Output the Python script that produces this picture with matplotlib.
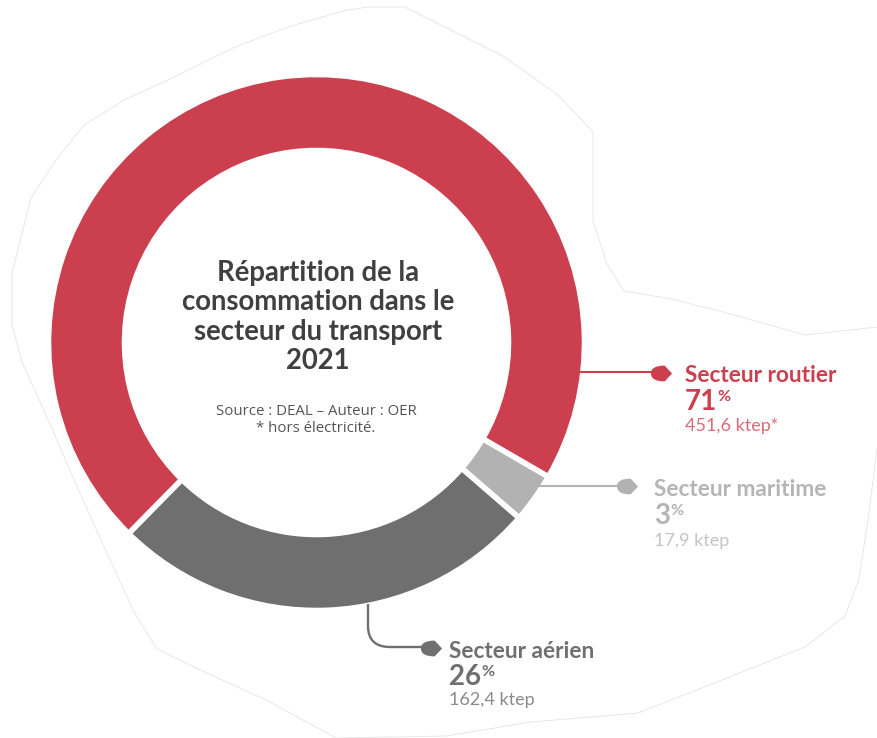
import matplotlib
matplotlib.use("Agg")
import matplotlib.pyplot as plt
from matplotlib.path import Path
from matplotlib.patches import PathPatch

W, H = 877, 738

sectors = ["Secteur routier", "Secteur maritime", "Secteur aérien"]
percents = [71, 3, 26]
ktep_labels = ["451,6 ktep*", "17,9 ktep", "162,4 ktep"]
colors = ["#CB3F4E", "#B2B2B2", "#6F6F6F"]
text_colors = ["#CB3F4E", "#B5B5B5", "#6F6F6F"]
sub_colors = ["#DB6A76", "#C4C4C4", "#8A8A8A"]

title_lines = "Répartition de la\nconsommation dans le\nsecteur du transport\n2021"
source_lines = "Source : DEAL – Auteur : OER\n* hors électricité."

# thin map outline behind the ring in pixels
outline_x = [12, 31, 56, 84, 126, 168, 235, 291, 347, 369, 405, 447, 503, 559, 593,
             593, 607, 624, 671, 727, 805, 877]
outline_y = [273, 198, 160, 125, 99, 80, 47, 26, 10, 7, 7, 28, 56, 96, 132,
             221, 264, 291, 299, 313, 335, 327]
outline2_x = [877, 869, 859, 845, 805, 727, 638, 531, 447, 336, 268, 196, 157, 134,
              106, 78, 50, 22, 12, 12]
outline2_y = [449, 513, 579, 616, 647, 678, 713, 722, 736, 738, 701, 668, 649, 612,
              551, 489, 424, 362, 325, 273]


def py(y):
    return H - y


fig = plt.figure(figsize=(W / 100, H / 100), dpi=100)
ax = fig.add_axes([0, 0, 1, 1])

ax.plot(outline_x, [py(v) for v in outline_y], color="#E4E4E4", lw=0.6)
ax.plot(outline2_x, [py(v) for v in outline2_y], color="#E4E4E4", lw=0.6)

ax.pie(percents, colors=colors, startangle=225.5, counterclock=False,
       center=(316.5, py(342.5)), radius=268,
       wedgeprops={"width": 76, "edgecolor": "white", "linewidth": 4})

ax.set_xlim(0, W)
ax.set_ylim(0, H)
ax.set_aspect("auto")
ax.axis("off")

# leader lines
ax.plot([580, 655], [py(372), py(372)], color=colors[0], lw=1.5, zorder=1)
ax.plot([538, 620], [py(486), py(486)], color=colors[1], lw=1.5, zorder=1)
elbow = Path([(368, py(604)), (368, py(626)), (368, py(647)), (390, py(647)), (425, py(647))],
             [Path.MOVETO, Path.LINETO, Path.CURVE3, Path.CURVE3, Path.LINETO])
ax.add_patch(PathPatch(elbow, fc="none", ec=colors[2], lw=1.7, zorder=1))

# pointed end of each leader
tip = Path([(-1, 0), (-1, 0.55), (-0.45, 0.75), (0.3, 0.75), (1, 0),
            (0.3, -0.75), (-0.45, -0.75), (-1, -0.55), (-1, 0), (-1, 0)],
           [Path.MOVETO, Path.CURVE4, Path.CURVE4, Path.LINETO, Path.LINETO,
            Path.LINETO, Path.CURVE4, Path.CURVE4, Path.CURVE4, Path.CLOSEPOLY])
tip_x = [661, 627, 431]
tip_y = [373, 486, 648]
for x, y, c in zip(tip_x, tip_y, colors):
    ax.scatter([x], [py(y)], marker=tip, s=230, color=c, linewidths=0, zorder=2)

# centre text
ax.text(318, py(317), title_lines, ha="center", va="center", fontsize=19.8, fontweight="bold",
        family="Lato", color="#404040", linespacing=1.17)
ax.text(316, py(420), source_lines, ha="center", va="center", fontsize=10.8, family="Open Sans",
        color="#555555", linespacing=1.15)

# sector labels
label_x = [685, 654, 449]
name_y = [376, 490, 651]
pct_y = [402, 516, 677]
sub_y = [426, 541, 700]
for i in range(3):
    ax.text(label_x[i], py(name_y[i]), sectors[i], ha="left", va="center", fontsize=16.3,
            fontweight="bold", family="Lato", color=text_colors[i])
    t = ax.text(label_x[i], py(pct_y[i]), str(percents[i]), ha="left", va="center", fontsize=20,
                fontweight="bold", family="Lato", color=text_colors[i])
    ax.annotate("%", xy=(1, 1), xycoords=t, xytext=(0, -1), textcoords="offset points",
                ha="left", va="top", fontsize=11.5, fontweight="bold", family="Lato",
                color=text_colors[i])
    ax.text(label_x[i], py(sub_y[i]), ktep_labels[i], ha="left", va="center", fontsize=13,
            family="Lato", color=sub_colors[i])

fig.savefig("out.png", dpi=100, facecolor="white")
